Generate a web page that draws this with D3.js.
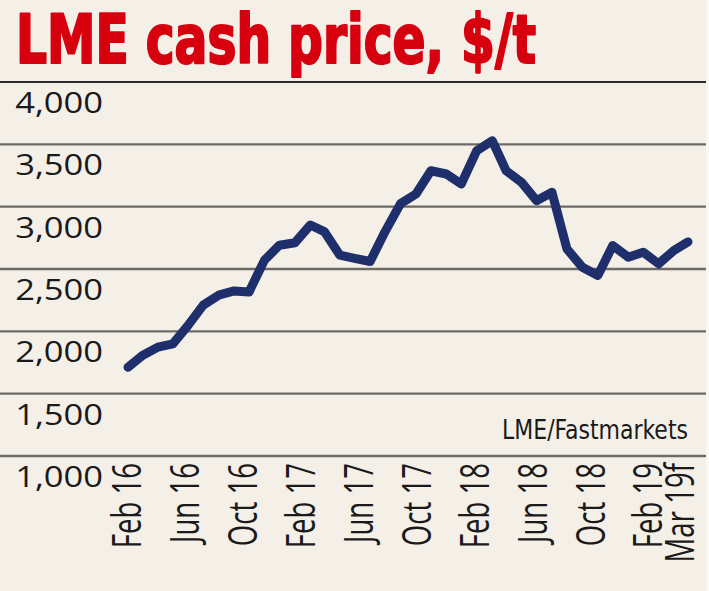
<!DOCTYPE html>
<html>
<head>
<meta charset="utf-8">
<script src="https://cdn.jsdelivr.net/npm/d3@7"></script>
<style>
  html, body { margin: 0; padding: 0; background: #f4f0e8; }
  svg { display: block; }
</style>
</head>
<body>
<div id="chart"></div>
<script>
// chart size
var svgWidth = 709, svgHeight = 591;

// monthly LME cash price, $/t, Feb 2016 .. Mar 2019 (last one forecast)
var startMonth = new Date(2016, 1, 1);
var prices = [1712, 1806, 1873, 1900, 2050, 2210, 2290, 2324, 2316, 2571, 2691, 2710,
              2853, 2800, 2612, 2585, 2560, 2800, 3024, 3102, 3288, 3262, 3182, 3449,
              3529, 3288, 3195, 3048, 3115, 2661, 2514, 2448, 2688, 2595, 2635, 2542,
              2650, 2717];

// axis ticks
var yTicks = [1000, 1500, 2000, 2500, 3000, 3500, 4000];
var tickLabels = ['Feb 16', 'Jun 16', 'Oct 16', 'Feb 17', 'Jun 17', 'Oct 17',
                  'Feb 18', 'Jun 18', 'Oct 18', 'Feb 19', 'Mar 19f'];
var tickMonths = [0, 4, 8, 12, 16, 20, 24, 28, 32, 36, 37];

var data = prices.map(function(p, i) {
    return {date: d3.timeMonth.offset(startMonth, i), price: p};
});

var svg = d3.select('#chart')
    .append('svg')
    .attr('width', svgWidth)
    .attr('height', svgHeight);

// background
svg.append('rect')
    .attr('width', svgWidth)
    .attr('height', svgHeight)
    .attr('fill', '#f4f0e8');
svg.append('rect')
    .attr('x', 706)
    .attr('width', 3)
    .attr('height', svgHeight)
    .attr('fill', '#faf8f3');

// scales
var xScale = d3.scaleTime()
    .domain([startMonth, d3.timeMonth.offset(startMonth, prices.length - 1)])
    .range([128, 688]);
var yScale = d3.scaleLinear()
    .domain([1000, 4000])
    .range([456, 82]);
// the printed month labels sit a bit tighter than the line itself
var labelScale = d3.scaleLinear()
    .domain([0, 36])
    .range([127, 648]);

// title
svg.append('text')
    .attr('x', 16)
    .attr('y', 63)
    .attr('font-family', '"Liberation Sans Narrow", "DejaVu Sans Condensed", sans-serif')
    .attr('font-weight', 'bold')
    .attr('font-size', 68)
    .attr('fill', '#d7000f')
    .attr('stroke', '#d7000f')
    .attr('stroke-width', 2.2)
    .attr('stroke-linejoin', 'round')
    .attr('textLength', 520)
    .attr('lengthAdjust', 'spacingAndGlyphs')
    .text('LME cash price, $/t');

// gridlines
svg.append('g')
    .selectAll('line')
    .data(yTicks)
    .enter()
    .append('line')
    .attr('x1', 0)
    .attr('x2', 706)
    .attr('y1', d => yScale(d))
    .attr('y2', d => yScale(d))
    .attr('stroke', d => d === 4000 ? '#2a2a2a' : '#6e6a65')
    .attr('stroke-width', d => d === 4000 ? 2 : 2.4);

// y labels hang under their gridline
svg.append('g')
    .selectAll('text')
    .data(yTicks)
    .enter()
    .append('text')
    .attr('transform', d => `translate(103, ${yScale(d) + 31}) scale(1.15, 1)`)
    .attr('text-anchor', 'end')
    .attr('font-family', '"Open Sans", sans-serif')
    .attr('font-size', 30)
    .attr('fill', '#1a1a1a')
    .text(d => d3.format(',')(d));

// x labels, rotated
svg.append('g')
    .selectAll('text')
    .data(tickLabels)
    .enter()
    .append('text')
    .attr('transform', function(d, i) {
        var x = i === tickLabels.length - 1 ? xScale(d3.timeMonth.offset(startMonth, tickMonths[i])) - 8
                                            : labelScale(tickMonths[i]);
        return `translate(${x}, 463) scale(1, 0.69) rotate(-90)`;
    })
    .attr('text-anchor', 'end')
    .attr('dy', '0.36em')
    .attr('font-family', '"Open Sans", sans-serif')
    .attr('font-size', 40)
    .attr('fill', '#1a1a1a')
    .text(d => d);

// price line
var line = d3.line()
    .x(d => xScale(d.date))
    .y(d => yScale(d.price));

svg.append('path')
    .datum(data)
    .attr('d', line)
    .attr('fill', 'none')
    .attr('stroke', '#1f2f6b')
    .attr('stroke-width', 9)
    .attr('stroke-linejoin', 'round')
    .attr('stroke-linecap', 'round');

// source
svg.append('text')
    .attr('x', 688)
    .attr('y', 439)
    .attr('text-anchor', 'end')
    .attr('font-family', '"Liberation Sans Narrow", "DejaVu Sans Condensed", sans-serif')
    .attr('font-size', 27)
    .attr('fill', '#1a1a1a')
    .attr('textLength', 186)
    .attr('lengthAdjust', 'spacingAndGlyphs')
    .text('LME/Fastmarkets');
</script>
</body>
</html>
